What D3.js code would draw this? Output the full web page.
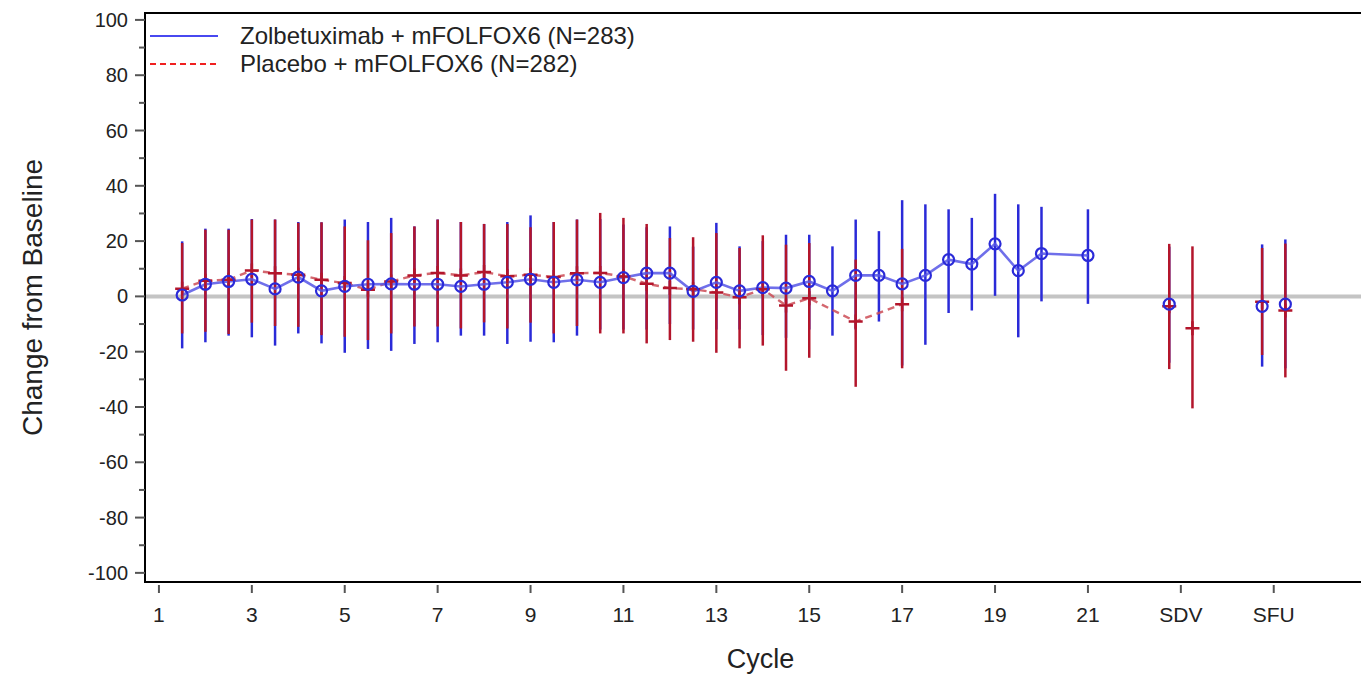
<!DOCTYPE html>
<html>
<head>
<meta charset="utf-8">
<script src="https://cdn.jsdelivr.net/npm/d3@7"></script>
<style>
  body { margin: 0; background: #fff; }
  text { font-family: 'Liberation Sans', Arial, sans-serif; fill: #222; }
</style>
</head>
<body>
<div id="chart"></div>
<script>
// visit positions on the cycle axis (SDV and SFU sit at 23 and 25)
let visits = [1.5, 2, 2.5, 3, 3.5, 4, 4.5, 5, 5.5, 6, 6.5, 7, 7.5, 8, 8.5, 9, 9.5, 10, 10.5, 11,
  11.5, 12, 12.5, 13, 13.5, 14, 14.5, 15, 15.5, 16, 16.5, 17, 17.5, 18, 18.5, 19, 19.5, 20, 21,
  22.75, 23.25, 24.75, 25.25]
let lastConnected = 21

let xTickValues = [1, 3, 5, 7, 9, 11, 13, 15, 17, 19, 21, 23, 25]
let xTickLabels = ['1', '3', '5', '7', '9', '11', '13', '15', '17', '19', '21', 'SDV', 'SFU']
let yTickValues = [-100, -80, -60, -40, -20, 0, 20, 40, 60, 80, 100]

let seriesNames = ['Zolbetuximab + mFOLFOX6 (N=283)', 'Placebo + mFOLFOX6 (N=282)']

let zolbMean = [0.5, 4.4, 5.4, 6.2, 2.7, 7.0, 2.0, 3.6, 4.4, 4.5, 4.4, 4.4, 3.6, 4.4, 5.1, 6.2, 5.1, 6.0, 5.1, 6.8,
  8.4, 8.4, 1.8, 5.1, 2.0, 3.2, 3.0, 5.4, 2.0, 7.6, 7.6, 4.5, 7.6, 13.3, 11.7, 19.0, 9.3, 15.5, 14.8,
  -2.8, null, -3.6, -2.8]
let zolbLow = [-18.8, -16.6, -14.2, -14.8, -17.8, -13.4, -17.0, -20.4, -19.0, -19.7, -17.2, -16.6, -14.2, -14.2, -17.2, -16.4, -16.6, -14.2, -12.0, -12.0,
  -12.0, -10.0, -12.0, -12.0, -12.0, -14.0, -15.0, -12.0, -14.2, -12.0, -9.1, -25.0, -17.5, -6.0, -5.1, 0.2, -14.8, -1.8, -2.7,
  -24.0, null, -25.4, -26.0]
let zolbHigh = [19.9, 24.5, 24.5, 28.0, 27.8, 26.9, 26.8, 27.8, 26.9, 28.4, 25.3, 27.8, 26.9, 26.2, 26.9, 29.3, 26.9, 27.8, 28.0, 26.0,
  25.0, 25.3, 18.0, 26.6, 18.1, 20.0, 22.3, 22.3, 18.1, 27.8, 23.6, 34.8, 33.3, 31.5, 28.4, 37.1, 33.3, 32.4, 31.5,
  18.0, null, 18.8, 20.6]

let placMean = [2.8, 5.7, 6.0, 9.4, 8.4, 7.8, 6.0, 4.8, 2.4, 5.4, 7.6, 8.5, 7.6, 8.8, 7.3, 7.8, 7.0, 8.4, 8.5, 7.2,
  4.6, 3.0, 2.6, 1.4, -0.3, 2.6, -3.3, -0.7, null, -9.1, null, -2.8, null, null, null, null, null, null, null,
  -3.6, -11.5, -1.9, -5.1]
let placLow = [-13.4, -12.8, -13.6, -9.5, -10.7, -11.0, -14.0, -14.6, -15.8, -13.4, -10.9, -10.9, -11.6, -9.4, -11.6, -9.5, -13.4, -10.7, -13.4, -13.4,
  -17.0, -15.8, -16.4, -20.4, -18.8, -17.8, -26.9, -22.2, null, -32.7, null, -26.0, null, null, null, null, null, null, null,
  -26.3, -40.5, -21.2, -29.3]
let placHigh = [19.3, 24.1, 24.1, 27.8, 27.8, 26.6, 26.8, 25.3, 20.3, 22.9, 25.3, 27.8, 26.9, 26.2, 26.2, 25.0, 26.9, 27.8, 30.2, 28.4,
  26.2, 21.1, 21.4, 22.9, 17.5, 22.1, 18.7, 19.3, null, 13.3, null, 17.2, null, null, null, null, null, null, null,
  19.0, 18.1, 17.5, 19.1]

let width = 1361
let height = 675
let plot = {left: 145, top: 13, right: 1362, bottom: 582}

let svg = d3.select('#chart').append('svg')
  .attr('width', width)
  .attr('height', height)

let x = d3.scaleLinear().domain([0.7, 26.9]).range([plot.left, plot.right])
let y = d3.scaleLinear().domain([-103.3, 102.5]).range([plot.bottom, plot.top])

let toRows = (mean, low, high) => visits.map((v, i) => ({x: v, mean: mean[i], low: low[i], high: high[i]}))
  .filter(d => d.mean !== null)
let zolb = toRows(zolbMean, zolbLow, zolbHigh)
let plac = toRows(placMean, placLow, placHigh)

let blueBar = '#2a2ad8'
let blueLine = '#5656e6'
let redBar = '#b3152b'
let redLine = '#cc4c56'

// reference line at zero
svg.append('line')
  .attr('x1', plot.left).attr('x2', plot.right)
  .attr('y1', y(0)).attr('y2', y(0))
  .attr('stroke', '#c4c4c4')
  .attr('stroke-width', 4)

let bars = (data, color) => svg.append('g').selectAll('line').data(data).enter().append('line')
  .attr('x1', d => x(d.x)).attr('x2', d => x(d.x))
  .attr('y1', d => y(d.low)).attr('y2', d => y(d.high))
  .attr('stroke', color)
  .attr('stroke-width', 2.5)

bars(zolb, blueBar)
bars(plac, redBar)

let line = d3.line().x(d => x(d.x)).y(d => y(d.mean))

svg.append('path')
  .datum(plac.filter(d => d.x <= lastConnected))
  .attr('d', line)
  .attr('fill', 'none')
  .attr('stroke', redLine)
  .attr('stroke-width', 2.4)
  .attr('stroke-dasharray', '7,5')
  .attr('opacity', 0.85)

svg.append('path')
  .datum(zolb.filter(d => d.x <= lastConnected))
  .attr('d', line)
  .attr('fill', 'none')
  .attr('stroke', blueLine)
  .attr('stroke-width', 2.6)
  .attr('opacity', 0.85)

svg.append('g').selectAll('path').data(plac).enter().append('path')
  .attr('d', 'M-7,0H7M0,-7V7')
  .attr('transform', d => `translate(${x(d.x)},${y(d.mean)})`)
  .attr('stroke', redBar)
  .attr('stroke-width', 2.5)

svg.append('g').selectAll('circle').data(zolb).enter().append('circle')
  .attr('cx', d => x(d.x))
  .attr('cy', d => y(d.mean))
  .attr('r', 5.5)
  .attr('fill', 'none')
  .attr('stroke', blueBar)
  .attr('stroke-width', 2.2)

// frame
svg.append('rect')
  .attr('x', plot.left).attr('y', plot.top)
  .attr('width', plot.right - plot.left + 4)
  .attr('height', plot.bottom - plot.top)
  .attr('fill', 'none')
  .attr('stroke', '#000')
  .attr('stroke-width', 2)

// y axis ticks
let yMinor = d3.range(-90, 100, 20)
svg.append('g').selectAll('line').data(yTickValues).enter().append('line')
  .attr('x1', plot.left - 10).attr('x2', plot.left)
  .attr('y1', d => y(d)).attr('y2', d => y(d))
  .attr('stroke', '#555').attr('stroke-width', 2)
svg.append('g').selectAll('line').data(yMinor).enter().append('line')
  .attr('x1', plot.left - 6).attr('x2', plot.left)
  .attr('y1', d => y(d)).attr('y2', d => y(d))
  .attr('stroke', '#555').attr('stroke-width', 2)
svg.append('g').selectAll('text').data(yTickValues).enter().append('text')
  .attr('x', plot.left - 17)
  .attr('y', d => y(d))
  .attr('dy', '0.35em')
  .attr('text-anchor', 'end')
  .style('font-size', '20px')
  .text(d => d)

// x axis ticks
svg.append('g').selectAll('line').data(xTickValues).enter().append('line')
  .attr('x1', d => x(d)).attr('x2', d => x(d))
  .attr('y1', plot.bottom + 3).attr('y2', plot.bottom + 11)
  .attr('stroke', '#555').attr('stroke-width', 2)
svg.append('g').selectAll('text').data(xTickValues).enter().append('text')
  .attr('x', d => x(d))
  .attr('y', 615)
  .attr('dy', '0.35em')
  .attr('text-anchor', 'middle')
  .style('font-size', '21px')
  .text((d, i) => xTickLabels[i])

svg.append('text')
  .attr('x', x(13.95))
  .attr('y', 668)
  .attr('text-anchor', 'middle')
  .style('font-size', '27px')
  .text('Cycle')

svg.append('text')
  .attr('transform', `translate(32,${(plot.top + plot.bottom) / 2}) rotate(-90)`)
  .attr('dy', '0.35em')
  .attr('text-anchor', 'middle')
  .style('font-size', '28px')
  .text('Change from Baseline')

// legend
let legend = svg.append('g')
let legendY = [36, 64]
legend.append('line')
  .attr('x1', 150).attr('x2', 218).attr('y1', legendY[0]).attr('y2', legendY[0])
  .attr('stroke', '#4848f0').attr('stroke-width', 2)
legend.append('line')
  .attr('x1', 150).attr('x2', 218).attr('y1', legendY[1]).attr('y2', legendY[1])
  .attr('stroke', '#f02020').attr('stroke-width', 2)
  .attr('stroke-dasharray', '6,4')
legend.selectAll('text').data(seriesNames).enter().append('text')
  .attr('x', 240)
  .attr('y', (d, i) => legendY[i])
  .attr('dy', '0.35em')
  .style('font-size', '24px')
  .text(d => d)
</script>
</body>
</html>
